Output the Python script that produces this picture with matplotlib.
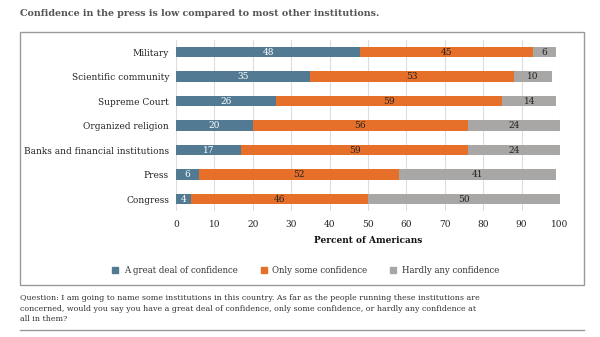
# coding=utf-8
"""
Confianza en instituciones: barras apiladas horizontales.
"""

import matplotlib
matplotlib.use('Agg')
import matplotlib.pyplot as plt
from matplotlib.patches import Rectangle
from matplotlib.lines import Line2D

# Datos
institutions = ['Military', 'Scientific community', 'Supreme Court',
                'Organized religion', 'Banks and financial institutions',
                'Press', 'Congress']
great_deal = [48, 35, 26, 20, 17, 6, 4]
only_some = [45, 53, 59, 56, 59, 52, 46]
hardly_any = [6, 10, 14, 24, 24, 41, 50]
series_names = ['A great deal of confidence', 'Only some confidence',
                'Hardly any confidence']

colors = ['#527b93', '#e6702a', '#a9a6a6']
text_colors = ['white', '#222222', '#222222']

plt.rcParams['font.family'] = ['DejaVu Serif']

fig = plt.figure(figsize=(6.0, 3.37), dpi=100)
ax = fig.add_axes([0.2933, 0.373, 0.64, 0.509])

# Marco exterior
fig.patches.append(Rectangle((0.0333, 0.154), 0.94, 0.751,
                             transform=fig.transFigure, fill=False,
                             edgecolor='#9a9a9a', linewidth=1.0))

y = list(range(len(institutions)))
left = [0] * len(institutions)
for vals, col, tcol, name in zip([great_deal, only_some, hardly_any],
                                 colors, text_colors, series_names):
    bars = ax.barh(y, vals, left=left, height=0.42, color=col, label=name,
                   zorder=3)
    for b, v, l in zip(bars, vals, left):
        ax.text(l + v / 2.0, b.get_y() + b.get_height() / 2.0, str(v),
                ha='center', va='center', fontsize=6.5, color=tcol,
                zorder=4)
    left = [a + b for a, b in zip(left, vals)]

ax.set_ylim(len(institutions) - 0.5, -0.5)
ax.set_xlim(0, 100)
ax.set_xticks(range(0, 101, 10))
ax.set_yticks(y)
ax.set_yticklabels(institutions, fontsize=6.5, color='#222222')
ax.tick_params(axis='x', labelsize=6.5, colors='#222222', length=0, pad=6)
ax.tick_params(axis='y', length=0, pad=5)
ax.grid(axis='x', color='#dddddd', linewidth=0.8, zorder=0)
for s in ax.spines.values():
    s.set_visible(False)
ax.set_xlabel('Percent of Americans', fontsize=6.5, fontweight='bold',
              color='#111111', labelpad=5)

# Leyenda
handles = [Line2D([], [], marker='s', linestyle='none', markersize=4,
                  color=c) for c in colors]
fig.legend(handles, series_names, loc='center', bbox_to_anchor=(0.505, 0.198),
           ncol=3, frameon=False, fontsize=6.2, handletextpad=0.0,
           columnspacing=2.0, labelcolor='#333333')

# Titulo
fig.text(0.0333, 0.961, 'Confidence in the press is low compared to most '
         'other institutions.', fontsize=6.8, fontweight='bold',
         color='#555555', va='center', ha='left')

# Pregunta
fig.text(0.0333, 0.128, 'Question: I am going to name some institutions in '
         'this country. As far as the people running these institutions are\n'
         'concerned, would you say you have a great deal of confidence, only '
         'some confidence, or hardly any confidence at\nall in them?',
         fontsize=5.7, color='#333333', va='top', ha='left', linespacing=1.45)
fig.add_artist(Line2D([0.0333, 0.9733], [0.021, 0.021],
                      transform=fig.transFigure, color='#9a9a9a',
                      linewidth=1.0))

fig.savefig('out.png', dpi=100)
